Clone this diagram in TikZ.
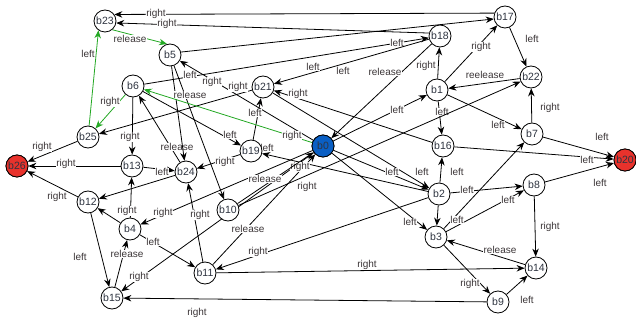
\documentclass[tikz,border=0pt]{standalone}
\usepackage{fontspec}
\setmainfont{Liberation Sans}
\usetikzlibrary{arrows.meta}
\definecolor{nodeblue}{HTML}{0A5FC4}
\definecolor{nodered}{HTML}{E8322C}
\definecolor{edgegreen}{HTML}{23A823}
\definecolor{labgray}{HTML}{3C3638}
\definecolor{nodetext}{HTML}{2E3440}
\pgfdeclarelayer{edges}
\pgfsetlayers{edges,main}
\begin{document}
\begin{tikzpicture}[x=1pt,y=-1pt,
  st/.style={circle,draw=black,line width=0.8pt,fill=white,minimum size=22pt,inner sep=0pt,
    font=\fontsize{10.5}{12}\selectfont,text=nodetext},
  lab/.style={fill=white,inner sep=0.6pt,font=\fontsize{10}{11}\selectfont,text=labgray},
  ed/.style={draw=black,line width=0.8pt,-{Stealth[length=8pt,width=6.5pt]}},
  gr/.style={ed,draw=edgegreen,-{Stealth[length=8pt,width=6.5pt,fill=edgegreen]}},
]
\useasboundingbox (0,0) rectangle (636,323);

% states
\node[st] (b0)  at (323,146) {b0};
\node[st] (b1)  at (437,90)  {b1};
\node[st] (b2)  at (439,194) {b2};
\node[st] (b3)  at (436,237) {b3};
\node[st] (b4)  at (130,229) {b4};
\node[st] (b5)  at (170,55)  {b5};
\node[st] (b6)  at (133,86)  {b6};
\node[st] (b7)  at (532,134) {b7};
\node[st] (b8)  at (534,185) {b8};
\node[st] (b9)  at (498,302) {b9};
\node[st] (b10) at (228,210) {b10};
\node[st] (b11) at (205,273) {b11};
\node[st] (b12) at (88,202)  {b12};
\node[st] (b13) at (132,166) {b13};
\node[st] (b14) at (536,268) {b14};
\node[st] (b15) at (112,298) {b15};
\node[st] (b16) at (443,146) {b16};
\node[st] (b17) at (505,17)  {b17};
\node[st] (b18) at (440,36)  {b18};
\node[st] (b19) at (251,151) {b19};
\node[st] (b20) at (625,160) {b20};
\node[st] (b21) at (263,87)  {b21};
\node[st] (b22) at (531,77)  {b22};
\node[st] (b23) at (105,21)  {b23};
\node[st] (b24) at (186,172) {b24};
\node[st] (b25) at (88,137)  {b25};
\node[st] (b26) at (17,166)  {b26};
\node[st,fill=nodeblue] at (b0) {b0};
\node[st,fill=nodered] at (b20) {b20};
\node[st,fill=nodered] at (b26) {b26};

\begin{pgfonlayer}{edges}
\draw[ed] (b17.160) -- (b23.35) node[lab,at={(156,14)}]{right};
\draw[ed] (b18.165) -- (b23.-10) node[lab,at={(167,24)}]{right};
\draw[ed] (b5.15) -- (b17.190);
\draw[ed] (b6) -- (b18) node[lab,at={(397,43)}]{left} node[lab,at={(190,75)}]{left};
\draw[ed] (b18) -- (b21) node[lab,at={(313,67)}]{left} node[lab,at={(343,71)}]{left};
\draw[ed] (b0) -- (b5) node[lab,at={(212,82)}]{right};
\draw[ed] (b1) -- (b18) node[lab,at={(426,66)}]{right};
\draw[ed] (b18) -- (b0) node[lab,at={(385,72)}]{release};
\draw[ed] (b1) -- (b17) node[lab,at={(481,47)}]{right};
\draw[ed] (b22) -- (b1) node[lab,at={(485,75)}]{reelease};
\draw[ed] (b1) -- (b16) node[lab,at={(442,112)}]{left};
\draw[ed] (b1) -- (b7) node[lab,at={(498,125)}]{left};
\draw[ed] (b17) -- (b22) node[lab,at={(532,39)}]{left};
\draw[ed] (b7) -- (b22) node[lab,at={(550,108)}]{right};
\draw[ed] (b7) -- (b20) node[lab,at={(602,137)}]{left};
\draw[ed] (b16) -- (b20) node[lab,at={(587,160)}]{left};
\draw[ed] (b8) -- (b20) node[lab,at={(600,183)}]{left};
\draw[ed] (b2) -- (b8) node[lab,at={(467,190)}]{left};
\draw[ed] (b3) -- (b8) node[lab,at={(508,200)}]{left};
\draw[ed] (b2) -- (b16) node[lab,at={(457,172)}]{left};
\draw[ed] (b3) -- (b7) node[lab,at={(457,220)}]{left};
\draw[ed] (b8) -- (b14) node[lab,at={(550,227)}]{right};
\draw[ed] (b14) -- (b3) node[lab,at={(500,250)}]{release};
\draw[ed] (b3) -- (b9) node[lab,at={(470,284)}]{right};
\draw[ed] (b9) -- (b14) node[lab,at={(527,300)}]{left};
\draw[ed] (b11) -- (b14) node[lab,at={(367,265)}]{right};
\draw[ed] (b9) -- (b15) node[lab,at={(197,313)}]{right};
\draw[ed] (b2) -- (b11) node[lab,at={(258,252)}]{right};
\draw[ed] (b11) -- (b0) node[lab,at={(248,229)}]{release};
\draw[ed] (b4) -- (b11) node[lab,at={(153,242)}]{left};
\draw[ed] (b15) -- (b4) node[lab,at={(127,254)}]{release};
\draw[ed] (b12) -- (b15) node[lab,at={(80,257)}]{left};
\draw[ed] (b12) -- (b26) node[lab,at={(57,197)}]{right};
\draw[ed] (b13) -- (b26) node[lab,at={(66,164)}]{right};
\draw[ed] (b25) -- (b26) node[lab,at={(42,147)}]{right};
\draw[ed] (b13) -- (b24) node[lab,at={(162,172)}]{left};
\draw[ed] (b4) -- (b13) node[lab,at={(127,211)}]{right};
\draw[ed] (b4) -- (b12);
\draw[ed] (b6) -- (b13) node[lab,at={(130,137)}]{right};
\draw[ed] (b24) -- (b6) node[lab,at={(177,147)}]{release};
\draw[ed] (b5) -- (b24);
\draw[ed] (b11) -- (b24) node[lab,at={(200,215)}]{right};
\draw[ed] (b24) -- (b12);
\draw[ed] (b0) -- (b4) node[lab,at={(163,213)}]{right};
\draw[ed] (b0) -- (b15) node[lab,at={(139,277)}]{right};
\draw[ed] (b19) -- (b24) node[lab,at={(225,162)}]{right};
\draw[ed] (b19) -- (b21) node[lab,at={(255,113)}]{left};
\draw[ed] (b21) -- (b25) node[lab,at={(238,87)}]{right};
\draw[ed] (b6) -- (b19) node[lab,at={(230,135)}]{left};
\draw[ed] (b16) -- (b21) node[lab,at={(298,94)}]{right};
\draw[ed] (b21) -- (b2) node[lab,at={(422,172)}]{left};
\draw[ed] (b0) -- (b2) node[lab,at={(392,172)}]{left};
\draw[ed] (b0) -- (b3) node[lab,at={(410,222)}]{left};
\draw[ed] (b0) -- (b1) node[lab,at={(397,110)}]{left};
\draw[ed] (b2) -- (b19) node[lab,at={(300,167)}]{right} node[lab,at={(267,148)}]{left};
\draw[ed] (b10) -- (b0) node[lab,at={(265,179)}]{release};
\draw[ed] (b10) -- (b22) node[lab,at={(307,187)}]{right};
\draw[ed] (b5) -- (b10) node[lab,at={(190,95)}]{release};
\draw[ed] (b2) -- (b3);
% green path
\draw[gr] (b23.-50) -- (b5.105) node[lab,at={(130,39)}]{release};
\draw[gr] (b25) -- (b23.-125) node[lab,at={(88,54)}]{left};
\draw[gr] (b6) -- (b25) node[lab,at={(110,102)}]{right};
\draw[gr] (b0) -- (b6) node[lab,at={(292,136)}]{right};
\end{pgfonlayer}
\end{tikzpicture}
\end{document}
